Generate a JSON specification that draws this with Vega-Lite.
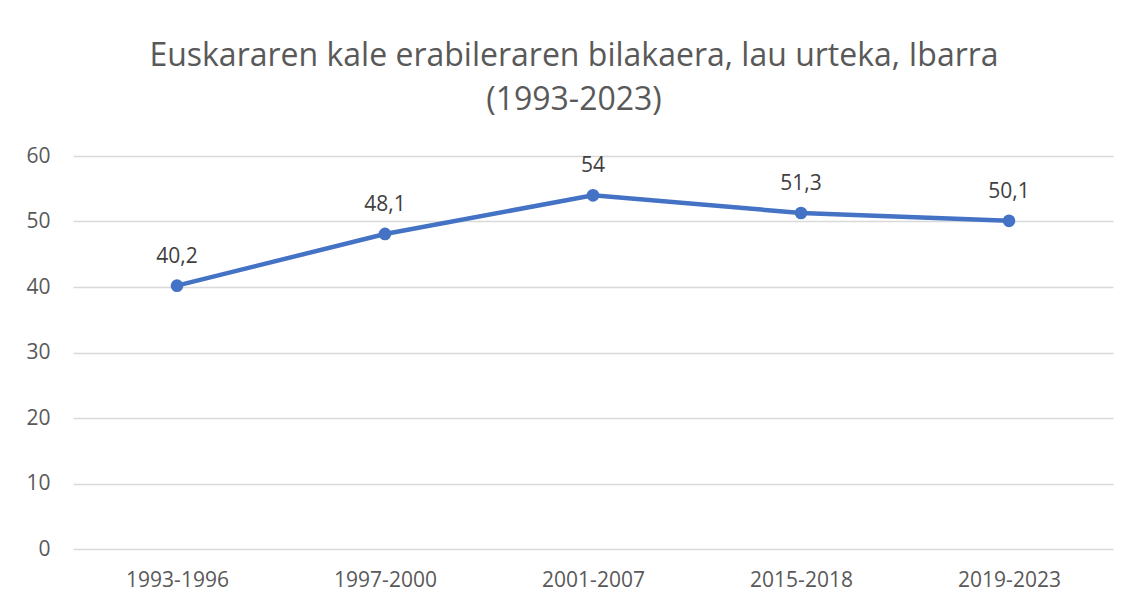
{
  "$schema": "https://vega.github.io/schema/vega-lite/v6.json",
  "width": 1040,
  "height": 393,
  "autosize": {"type": "none"},
  "padding": {"left": 73, "top": 156, "right": 19, "bottom": 55},
  "background": "white",
  "config": {"view": {"stroke": null}, "font": "Open Sans"},
  "title": {
    "text": ["Euskararen kale erabileraren bilakaera, lau urteka, Ibarra", "(1993-2023)"],
    "font": "Open Sans",
    "fontSize": 32,
    "fontWeight": "normal",
    "color": "#595959",
    "anchor": "middle",
    "dx": -19,
    "offset": 28,
    "lineHeight": 44
  },
  "data": {
    "values": [
      {"period": "1993-1996", "value": 40.2, "label": "40,2"},
      {"period": "1997-2000", "value": 48.1, "label": "48,1"},
      {"period": "2001-2007", "value": 54, "label": "54"},
      {"period": "2015-2018", "value": 51.3, "label": "51,3"},
      {"period": "2019-2023", "value": 50.1, "label": "50,1"}
    ]
  },
  "encoding": {
    "x": {
      "field": "period", "type": "ordinal", "sort": null,
      "scale": {"paddingInner": 0, "paddingOuter": 0},
      "axis": {"title": null, "labelAngle": 0, "ticks": false, "domain": false, "grid": false,
               "labelFont": "Open Sans", "labelFontSize": 21, "labelColor": "#595959", "labelPadding": 20}
    },
    "y": {
      "field": "value", "type": "quantitative",
      "scale": {"domain": [0, 60], "nice": false},
      "axis": {"title": null, "values": [0, 10, 20, 30, 40, 50, 60], "ticks": false, "domain": false,
               "grid": true, "gridColor": "#D9D9D9", "gridWidth": 1.3,
               "labelFont": "Open Sans", "labelFontSize": 21, "labelColor": "#595959", "labelPadding": 23}
    }
  },
  "layer": [
    {"mark": {"type": "line", "color": "#4472C4", "strokeWidth": 4.5}},
    {"mark": {"type": "point", "filled": true, "opacity": 1, "color": "#4472C4", "size": 160}},
    {"mark": {"type": "text", "dy": -23, "baseline": "alphabetic", "fontSize": 21, "color": "#404040", "font": "Open Sans"},
     "encoding": {"text": {"field": "label"}}}
  ]
}
